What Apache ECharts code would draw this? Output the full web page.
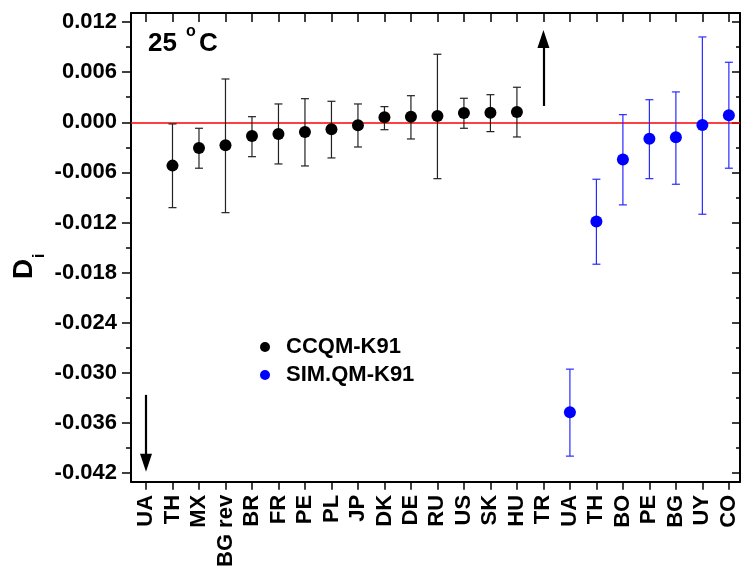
<!DOCTYPE html>
<html>
<head>
<meta charset="utf-8">
<script src="https://cdn.jsdelivr.net/npm/echarts@6.0.0/dist/echarts.min.js"></script>
<style>
  html, body { margin: 0; padding: 0; background: #fff; }
  #chart { width: 741px; height: 570px; }
</style>
</head>
<body>
<div id="chart"></div>
<script>
// x categories (duplicate names, so points use the index)
var categories = ['UA', 'TH', 'MX', 'BG rev', 'BR', 'FR', 'PE', 'PL', 'JP', 'DK', 'DE', 'RU', 'US', 'SK', 'HU', 'TR', 'UA', 'TH', 'BO', 'PE', 'BG', 'UY', 'CO']
var yTicks = [-0.042, -0.036, -0.030, -0.024, -0.018, -0.012, -0.006, 0.000, 0.006, 0.012]
var yMinorTicks = [-0.039, -0.033, -0.027, -0.021, -0.015, -0.009, -0.003, 0.003, 0.009]

// CCQM-K91
var ccqmIdx = [1, 2, 3, 4, 5, 6, 7, 8, 9, 10, 11, 12, 13, 14]
var ccqmVal = [-0.00519, -0.00307, -0.00275, -0.00164, -0.00140, -0.00116, -0.00084, -0.00036, 0.00060, 0.00067, 0.00075, 0.00111, 0.00115, 0.00123]
var ccqmLow = [-0.01022, -0.00550, -0.01082, -0.00412, -0.00499, -0.00523, -0.00427, -0.00296, -0.00089, -0.00200, -0.00675, -0.00072, -0.00112, -0.00176]
var ccqmHigh = [-0.00020, -0.00072, 0.00518, 0.00067, 0.00219, 0.00282, 0.00251, 0.00219, 0.00187, 0.00318, 0.00814, 0.00287, 0.00330, 0.00419]

// SIM.QM-K91
var simIdx = [16, 17, 18, 19, 20, 21, 22]
var simVal = [-0.03470, -0.01189, -0.00447, -0.00196, -0.00180, -0.00032, 0.00084]
var simLow = [-0.03996, -0.01699, -0.00989, -0.00675, -0.00742, -0.01101, -0.00550]
var simHigh = [-0.02955, -0.00682, 0.00091, 0.00270, 0.00363, 0.01021, 0.00718]

// arrows (out of range markers): [category index, tail, head]
var arrowDown = [0, -0.03263, -0.04076]
var arrowUp = [15, 0.00195, 0.00997]

var font = 'Liberation Sans, Arial, sans-serif'
var xIdx = categories.map(function(c, i) { return i })

function points(idx, vals) {
  return idx.map(function(x, i) { return [x, vals[i]] })
}
function bars(idx, lo, hi) {
  return idx.map(function(x, i) { return [x, lo[i], hi[i]] })
}
function errorBar(color) {
  return function(params, api) {
    var lo = api.coord([api.value(0), api.value(1)])
    var hi = api.coord([api.value(0), api.value(2)])
    var w = 4
    var style = { stroke: color, lineWidth: 1.2 }
    return {
      type: 'group',
      children: [
        { type: 'line', shape: { x1: lo[0], y1: lo[1], x2: hi[0], y2: hi[1] }, style: style },
        { type: 'line', shape: { x1: lo[0] - w, y1: lo[1], x2: lo[0] + w, y2: lo[1] }, style: style },
        { type: 'line', shape: { x1: hi[0] - w, y1: hi[1], x2: hi[0] + w, y2: hi[1] }, style: style }
      ]
    }
  }
}

var chart = echarts.init(document.getElementById('chart'))
var xRange = { min: -0.566, max: 22.42 }
var yRange = { min: -0.04304, max: 0.013077 }

chart.setOption({
  animation: false,
  grid: { left: 131, top: 13, width: 609, height: 469 },
  legend: {
    orient: 'vertical',
    left: 255,
    top: 331,
    itemWidth: 32,
    itemHeight: 10,
    itemGap: 6,
    icon: 'circle',
    data: ['CCQM-K91', 'SIM.QM-K91'],
    textStyle: { fontFamily: font, fontWeight: 'bold', fontSize: 22, color: '#000' }
  },
  xAxis: [{
    type: 'value',
    position: 'bottom',
    min: xRange.min,
    max: xRange.max,
    axisLine: { onZero: false, lineStyle: { color: '#000', width: 2 } },
    axisTick: { inside: false, length: 8, customValues: xIdx, lineStyle: { color: '#000', width: 1.5 } },
    axisLabel: {
      customValues: xIdx,
      rotate: 90,
      margin: 13,
      fontFamily: font,
      fontWeight: 'bold',
      fontSize: 22,
      color: '#000',
      formatter: function(v) { return categories[Math.round(v)] }
    },
    splitLine: { show: false }
  }, {
    type: 'value',
    position: 'top',
    min: xRange.min,
    max: xRange.max,
    axisLine: { onZero: false, lineStyle: { color: '#000', width: 2 } },
    axisTick: { inside: true, length: 9, customValues: xIdx, lineStyle: { color: '#000', width: 1.5 } },
    axisLabel: { show: false },
    splitLine: { show: false }
  }],
  yAxis: [{
    type: 'value',
    position: 'left',
    min: yRange.min,
    max: yRange.max,
    axisLine: { show: true, onZero: false, lineStyle: { color: '#000', width: 2 } },
    axisTick: { show: true, inside: false, length: 9, customValues: yTicks, lineStyle: { color: '#000', width: 1.5 } },
    axisLabel: {
      customValues: yTicks,
      margin: 14,
      fontFamily: font,
      fontWeight: 'bold',
      fontSize: 22,
      color: '#000',
      formatter: function(v) { return v.toFixed(3) }
    },
    splitLine: { show: false }
  }, {
    type: 'value',
    position: 'left',
    min: yRange.min,
    max: yRange.max,
    axisLine: { show: false, onZero: false },
    axisTick: { show: true, inside: false, length: 5, customValues: yMinorTicks, lineStyle: { color: '#000', width: 1.5 } },
    axisLabel: { show: false },
    splitLine: { show: false }
  }, {
    type: 'value',
    position: 'right',
    min: yRange.min,
    max: yRange.max,
    axisLine: { show: true, onZero: false, lineStyle: { color: '#000', width: 2 } },
    axisTick: { show: true, inside: true, length: 8, customValues: yTicks, lineStyle: { color: '#000', width: 1.5 } },
    axisLabel: { show: false },
    splitLine: { show: false }
  }, {
    type: 'value',
    position: 'right',
    min: yRange.min,
    max: yRange.max,
    axisLine: { show: false, onZero: false },
    axisTick: { show: true, inside: true, length: 4, customValues: yMinorTicks, lineStyle: { color: '#000', width: 1.5 } },
    axisLabel: { show: false },
    splitLine: { show: false }
  }],
  graphic: [
    { type: 'text', left: 148, top: 31, style: { text: '25', font: 'bold 26px ' + font, fill: '#000' } },
    { type: 'text', left: 186, top: 24, style: { text: 'o', font: 'bold 16px ' + font, fill: '#000' } },
    { type: 'text', left: 199, top: 31, style: { text: 'C', font: 'bold 26px ' + font, fill: '#000' } },
    { type: 'text', x: 24, y: 269, rotation: Math.PI / 2, style: { text: 'D', font: 'bold 28px ' + font, fill: '#000', align: 'center', verticalAlign: 'middle' } },
    { type: 'text', x: 39, y: 256, rotation: Math.PI / 2, style: { text: 'i', font: 'bold 17px ' + font, fill: '#000', align: 'center', verticalAlign: 'middle' } }
  ],
  series: [{
    type: 'custom',
    name: 'ccqmErr',
    renderItem: errorBar('#222'),
    encode: { x: 0, y: [1, 2] },
    data: bars(ccqmIdx, ccqmLow, ccqmHigh),
    z: 2,
    silent: true
  }, {
    type: 'custom',
    name: 'simErr',
    renderItem: errorBar('#2a2aff'),
    encode: { x: 0, y: [1, 2] },
    data: bars(simIdx, simLow, simHigh),
    z: 2,
    silent: true
  }, {
    type: 'scatter',
    name: 'CCQM-K91',
    symbol: 'circle',
    symbolSize: 12,
    itemStyle: { color: '#000', opacity: 1 },
    data: points(ccqmIdx, ccqmVal),
    z: 3,
    markLine: {
      z: 1,
      silent: true,
      animation: false,
      label: { show: false },
      data: [
        [{ xAxis: xRange.min, yAxis: 0, symbol: 'none' }, { xAxis: xRange.max, yAxis: 0, symbol: 'none' }],
        [
          { coord: [arrowDown[0], arrowDown[1]], symbol: 'none', lineStyle: { color: '#000', width: 2.2, type: 'solid' } },
          { coord: [arrowDown[0], arrowDown[2]], symbol: 'triangle', symbolSize: [12, 18] }
        ],
        [
          { coord: [arrowUp[0], arrowUp[1]], symbol: 'none', lineStyle: { color: '#000', width: 2.2, type: 'solid' } },
          { coord: [arrowUp[0], arrowUp[2]], symbol: 'triangle', symbolSize: [12, 18] }
        ]
      ],
      lineStyle: { color: '#ff0000', width: 1.5, type: 'solid', opacity: 1 }
    }
  }, {
    type: 'scatter',
    name: 'SIM.QM-K91',
    symbol: 'circle',
    symbolSize: 12,
    itemStyle: { color: '#0000ff', opacity: 1 },
    data: points(simIdx, simVal),
    z: 3
  }]
})
</script>
</body>
</html>
